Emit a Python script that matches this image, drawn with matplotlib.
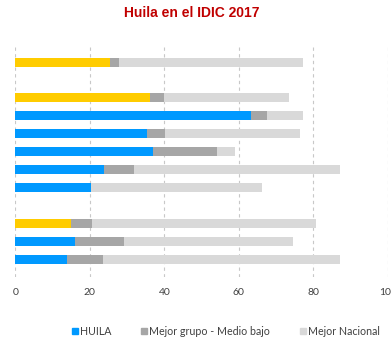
import numpy as np
import matplotlib.pyplot as plt
from matplotlib.patches import Patch

# row slots from top; empty slots separate the groups
rows = [0, 2, 3, 4, 5, 6, 7, 9, 10, 11]
huila = [25.5, 36.2, 63.3, 35.4, 36.9, 23.9, 20.4, 15.0, 16.0, 13.8]
mejor_grupo = [27.9, 39.8, 67.5, 40.3, 54.2, 31.8, 19.0, 20.6, 29.2, 23.6]
mejor_nacional = [77.3, 73.6, 77.3, 76.3, 59.0, 87.2, 66.1, 80.8, 74.6, 87.2]
resaltado = [True, True, False, False, False, False, False, True, False, False]

azul = '#0099FF'
amarillo = '#FFCC00'
gris = '#A6A6A6'
gris_claro = '#D9D9D9'

plt.rcParams['font.family'] = ['Lato', 'DejaVu Sans']

fig = plt.figure(figsize=(3.91, 3.37), dpi=100)
ax = fig.add_axes([0.039, 0.178, 0.953, 0.691])

h = 0.5
ax.barh(rows, mejor_nacional, height=h, color=gris_claro, zorder=2)
ax.barh(rows, mejor_grupo, height=h, color=gris, zorder=3)
colores = [amarillo if r else azul for r in resaltado]
ax.barh(rows, huila, height=h, color=colores, zorder=4)

ax.set_xlim(0, 100)
ax.set_ylim(12, -1)
ax.set_xticks([0, 20, 40, 60, 80, 100])
ax.set_yticks([])
ax.tick_params(axis='x', length=0, labelsize=7.5, colors='#404040', pad=8)
ax.grid(axis='x', color='#C8C8C8', linestyle=(0, (3, 3)), linewidth=0.8, zorder=0)
for s in ax.spines.values():
    s.set_visible(False)

fig.text(0.49, 0.962, 'Huila en el IDIC 2017', ha='center', va='center',
         fontsize=10, fontweight='bold', color='#C00000', family='Liberation Sans')

handles = [Patch(color=azul), Patch(color=gris), Patch(color=gris_claro)]
labels = ['HUILA', 'Mejor grupo - Medio bajo', 'Mejor Nacional']
fig.legend(handles, labels, loc='center', bbox_to_anchor=(0.578, 0.017), ncol=3,
           frameon=False, fontsize=7.7, handlelength=0.55, handleheight=0.55,
           handletextpad=0.2, columnspacing=2.8, labelcolor='#404040')

fig.savefig('out.png', dpi=100)
